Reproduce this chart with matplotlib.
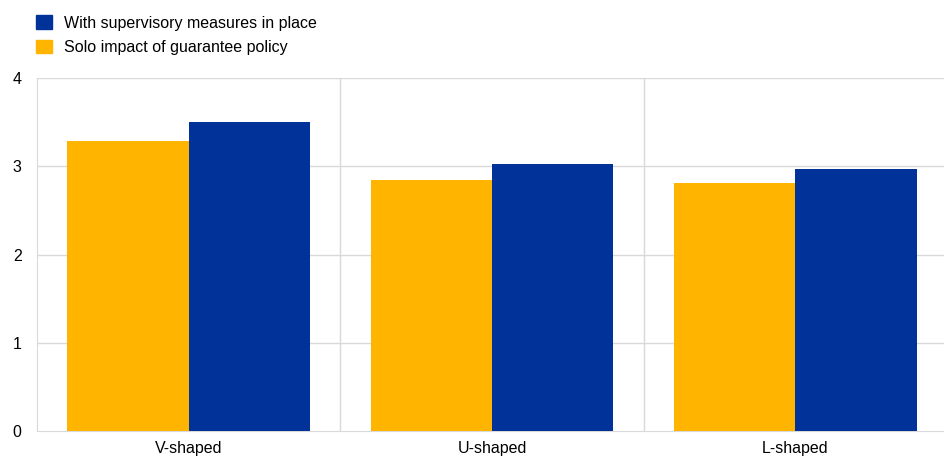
import matplotlib
matplotlib.use("Agg")
import matplotlib.pyplot as plt
import numpy as np
from matplotlib.patches import Patch

plt.rcParams['font.family'] = ['Liberation Sans', 'DejaVu Sans']

categories = ["V-shaped", "U-shaped", "L-shaped"]
solo = [3.29, 2.84, 2.81]
supervisory = [3.50, 3.03, 2.97]
yticks = [0, 1, 2, 3, 4]

yellow = "#FFB400"
blue = "#003299"
grid = "#d9d9d9"

fig = plt.figure(figsize=(9.45, 4.58), dpi=100)
ax = fig.add_axes([37/945, 1-431/458, (947-37)/945, (431-78)/458])

x = np.arange(len(categories))
w = 0.40
ax.bar(x - w/2, solo, width=w, color=yellow, zorder=3)
ax.bar(x + w/2, supervisory, width=w, color=blue, zorder=3)

ax.set_xlim(-0.5, len(categories) - 0.5)
ax.set_ylim(0, 4)
ax.set_yticks(yticks)
ax.set_yticklabels([str(t) for t in yticks], fontsize=11.5)
ax.set_xticks(x)
ax.set_xticklabels(categories, fontsize=11.5)
ax.tick_params(length=0)
ax.tick_params(axis='x', pad=7)
ax.tick_params(axis='y', pad=11)

for yv in yticks[1:]:
    ax.axhline(yv, color=grid, lw=1, zorder=1)
for xv in np.arange(0.5, len(categories) - 0.5, 1):
    ax.axvline(xv, color=grid, lw=1, zorder=1)

for s in ['top', 'right']:
    ax.spines[s].set_visible(False)
ax.spines['left'].set_color(grid)
ax.spines['bottom'].set_color(grid)

handles = [Patch(color=blue, label="With supervisory measures in place"),
           Patch(color=yellow, label="Solo impact of guarantee policy")]
fig.legend(handles=handles, loc='upper left', bbox_to_anchor=(30/945, 1-9/458),
           frameon=False, fontsize=11.5, handlelength=0.95, handleheight=0.95,
           handletextpad=0.75, labelspacing=0.55, borderaxespad=0)

fig.savefig("out.png", dpi=100)
